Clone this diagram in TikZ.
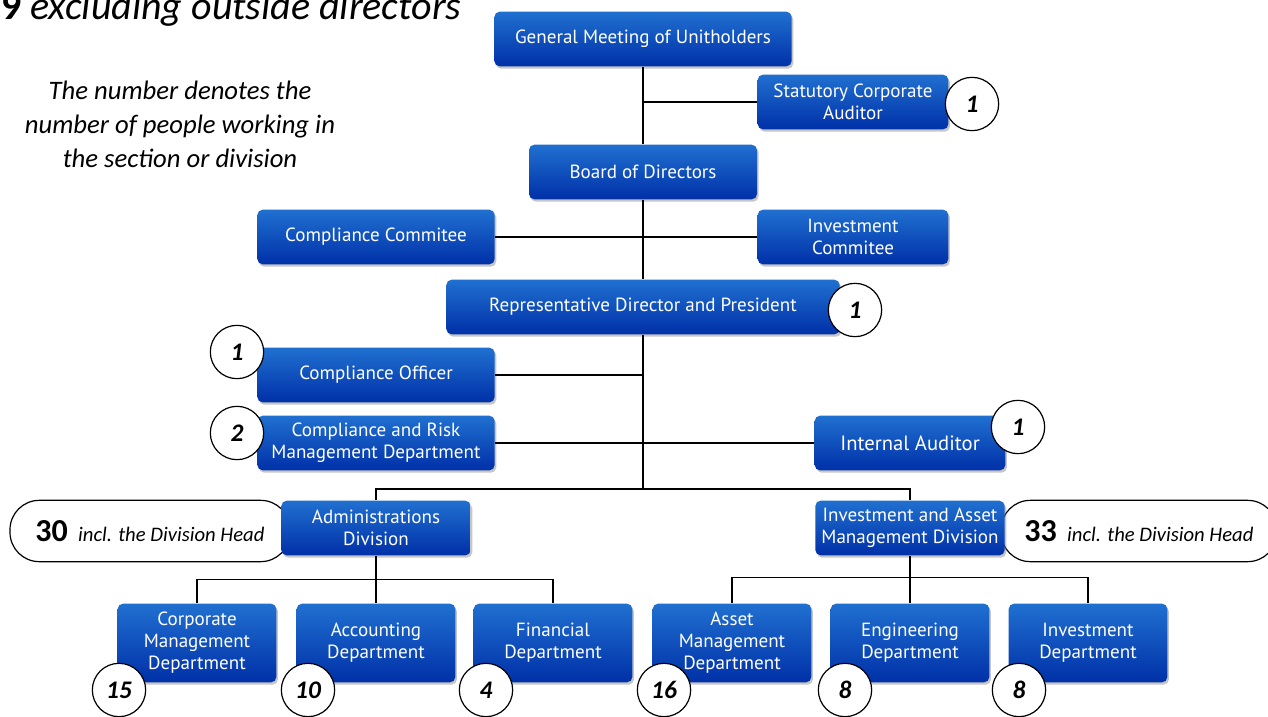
\documentclass[tikz,border=0pt]{standalone}
\usepackage{fontspec}
\setmainfont{PT Sans}
\newfontfamily\notefont{Carlito}
\usetikzlibrary{shadows}
\definecolor{unittop}{RGB}{32,112,208}
\definecolor{unitbot}{RGB}{0,48,168}

\tikzset{
	unit/.style={rounded corners=4pt, top color=unittop, bottom color=unitbot,
		text=white, align=center, inner sep=2pt, minimum height=41pt,
		font=\fontsize{14.3}{16.5}\selectfont,
		drop shadow={opacity=0.45, shadow xshift=1.2pt, shadow yshift=-1.8pt}},
	dept/.style={unit, minimum width=119pt, minimum height=59pt},
	count/.style={circle, draw, fill=white, line width=0.9pt, minimum size=40pt,
		inner sep=0pt, font=\notefont\fontsize{19}{19}\selectfont\bfseries\itshape},
	headcount/.style={draw, fill=white, line width=0.9pt, rounded corners=22pt,
		minimum height=46pt, inner sep=2pt,
		font=\notefont\fontsize{15.5}{18}\selectfont\itshape},
	link/.style={line width=0.9pt}
}

\begin{document}
\begin{tikzpicture}[x=0.75pt, y=-0.75pt]
	\useasboundingbox (0,0) rectangle (1268,717);
	%notes
	\node[anchor=base west, inner sep=0pt, font=\notefont\fontsize{30}{34}\selectfont]
	(title) at (1,20) {\textbf{9} \textit{excluding outside directors}};
	\node[align=center, font=\notefont\fontsize{20}{25.5}\selectfont\itshape]
	(note) at (180,124) {The number denotes the\\number of people working in\\the section or division};
	%headcounts of the divisions
	\node[headcount, minimum width=210pt] (admcount) at (150,531)
	{{\upshape\bfseries\fontsize{24}{24}\selectfont 30}\enspace incl. the Division Head};
	\node[headcount, minimum width=207pt] (iamcount) at (1139,531)
	{{\upshape\bfseries\fontsize{24}{24}\selectfont 33}\enspace incl. the Division Head};
	%units
	\node[unit, minimum width=223pt] (gm) at (643,39) {General Meeting of Unitholders};
	\node[unit, minimum width=143pt] (sca) at (853,102) {Statutory Corporate\\Auditor};
	\node[unit, minimum width=171pt] (board) at (643,172) {Board of Directors};
	\node[unit, minimum width=178pt] (cc) at (376,237) {Compliance Commitee};
	\node[unit, minimum width=143pt] (ic) at (853,237) {Investment\\Commitee};
	\node[unit, minimum width=295pt] (rep) at (643,307) {Representative Director and President};
	\node[unit, minimum width=178pt] (co) at (376,375) {Compliance Officer};
	\node[unit, minimum width=178pt] (crm) at (376,443) {Compliance and Risk\\Management Department};
	\node[unit, minimum width=143pt, font=\fontsize{15.5}{17}\selectfont] (ia) at (910,443) {Internal Auditor};
	\node[unit, minimum width=142pt] (adm) at (376,528) {Administrations\\Division};
	\node[unit, minimum width=142pt] (iam) at (910,528) {Investment and Asset\\Management Division};
	%departments
	\foreach \d/\x/\t in {
		cmd/197/Corporate\\Management\\Department,
		acc/376/Accounting\\Department,
		fin/553/Financial\\Department,
		amd/732/Asset\\Management\\Department,
		eng/910/Engineering\\Department,
		inv/1088/Investment\\Department
	}
	\node[dept] (\d) at (\x,643) {\t};
	%links
	\coordinate (split) at (643,489);
	\draw[link] (gm.south) -- (board.north);
	\draw[link] (board.south) -- (rep.north);
	\draw[link] (rep.south) -- (split);
	\draw[link] (sca.west) -- (sca.west -| gm.south);
	\draw[link] (cc.east) -- (ic.west);
	\draw[link] (co.east) -- (co.east -| rep.south);
	\draw[link] (crm.east) -- (ia.west);
	\draw[link] (adm.north) |- (split) -| (iam.north);
	\draw[link] (adm.south) -- ++(0,24) coordinate (admbar);
	\foreach \d in {cmd,acc,fin}
	\draw[link] (admbar) -| (\d.north);
	\draw[link] (iam.south) -- ++(0,22) coordinate (iambar);
	\foreach \d in {amd,eng,inv}
	\draw[link] (iambar) -| (\d.north);
	%people per unit
	\node[count] (scacount) at (972,104) {1};
	\node[count] (repcount) at (855,310) {1};
	\node[count] (cocount) at (237,352) {1};
	\node[count] (crmcount) at (237,433) {2};
	\node[count] (iacount) at (1018,427) {1};
	\foreach \d/\x/\n in {cmd/119/15, acc/308/10, fin/486/4, amd/664/16, eng/845/8, inv/1019/8}
	\node[count] (\d count) at (\x,690) {\n};
\end{tikzpicture}
\end{document}
